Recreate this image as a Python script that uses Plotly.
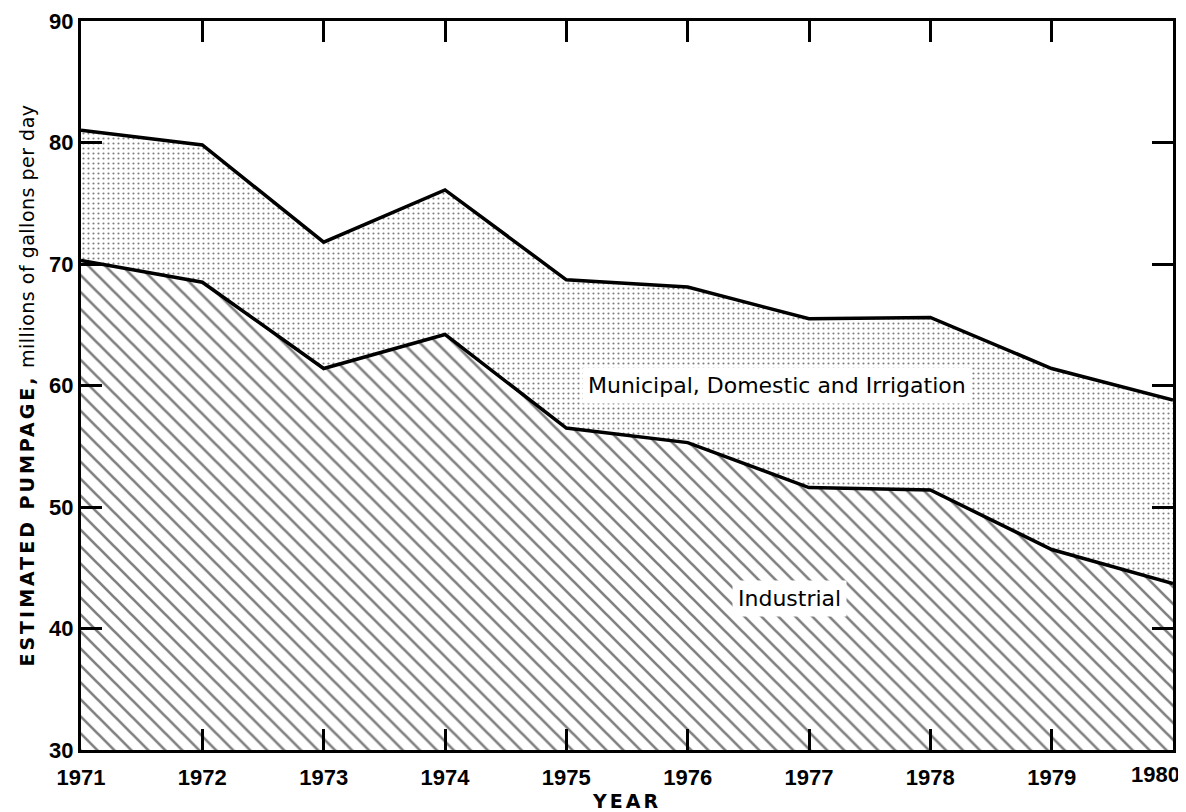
import plotly.graph_objects as go

years = [1971, 1972, 1973, 1974, 1975, 1976, 1977, 1978, 1979, 1980]
industrial = [70.3, 68.5, 61.4, 64.2, 56.5, 55.3, 51.6, 51.4, 46.5, 43.7]
total = [81.0, 79.8, 71.8, 76.1, 68.7, 68.1, 65.5, 65.6, 61.4, 58.8]
y_ticks = [30, 40, 50, 60, 70, 80, 90]
year_labels = [str(y) for y in years]

TICKFONT = dict(family="Liberation Sans", size=22, color="black", weight="bold")

fig = go.Figure()
fig.add_trace(go.Scatter(
    x=years, y=industrial, mode="lines",
    line=dict(color="black", width=3.5),
    fill="tozeroy", fillcolor="white",
    fillpattern=dict(shape="\\", size=12, solidity=0.22, fgcolor="black", bgcolor="white"),
    name="Industrial", showlegend=False, hoverinfo="skip",
))
fig.add_trace(go.Scatter(
    x=years, y=total, mode="lines",
    line=dict(color="black", width=3.5),
    fill="tonexty", fillcolor="white",
    fillpattern=dict(shape=".", size=5, solidity=0.15, fgcolor="black", bgcolor="white"),
    name="Municipal, Domestic and Irrigation", showlegend=False, hoverinfo="skip",
))

fig.add_annotation(x=1976.74, y=60.0, text="Municipal, Domestic and Irrigation",
                   showarrow=False, bgcolor="white", borderpad=5,
                   font=dict(family="DejaVu Sans", size=22, color="black"))
fig.add_annotation(x=1976.84, y=42.5, text="Industrial",
                   showarrow=False, bgcolor="white", borderpad=5,
                   font=dict(family="DejaVu Sans", size=22, color="black"))
# last year label kept inside the page, as in the original
fig.add_annotation(x=years[-1], y=0, xref="x", yref="paper", text=year_labels[-1],
                   showarrow=False, xanchor="right", yanchor="top", yshift=-10, xshift=9,
                   font=TICKFONT)

fig.update_layout(
    width=1178, height=804,
    margin=dict(l=73, r=13, t=13, b=62),
    paper_bgcolor="white", plot_bgcolor="white",
    font=dict(family="Liberation Sans", color="black"),
)
fig.update_xaxes(
    range=[1971, 1980], tickvals=years, ticktext=year_labels[:-1] + [""],
    ticks="inside", ticklen=21, tickwidth=3, tickcolor="black",
    showline=True, linecolor="black", linewidth=3, mirror="ticks",
    showgrid=False, zeroline=False, automargin=False,
    tickfont=TICKFONT, ticklabelstandoff=6,
    title=dict(text='<b><span style="letter-spacing:3px">YEAR</span></b>',
               font=dict(family="DejaVu Sans", size=19, color="black"), standoff=14),
)
fig.update_yaxes(
    range=[30, 90], tickvals=y_ticks,
    ticks="inside", ticklen=21, tickwidth=3, tickcolor="black",
    showline=True, linecolor="black", linewidth=3, mirror="ticks",
    showgrid=False, zeroline=False, automargin=False,
    tickfont=TICKFONT,
    title=dict(text='<b><span style="letter-spacing:3px">ESTIMATED PUMPAGE,</span></b>'
                    '<span style="letter-spacing:0.5px"> millions of gallons per day</span>',
               font=dict(family="DejaVu Sans", size=19, color="black"), standoff=10),
)

fig.write_html("out.html")
